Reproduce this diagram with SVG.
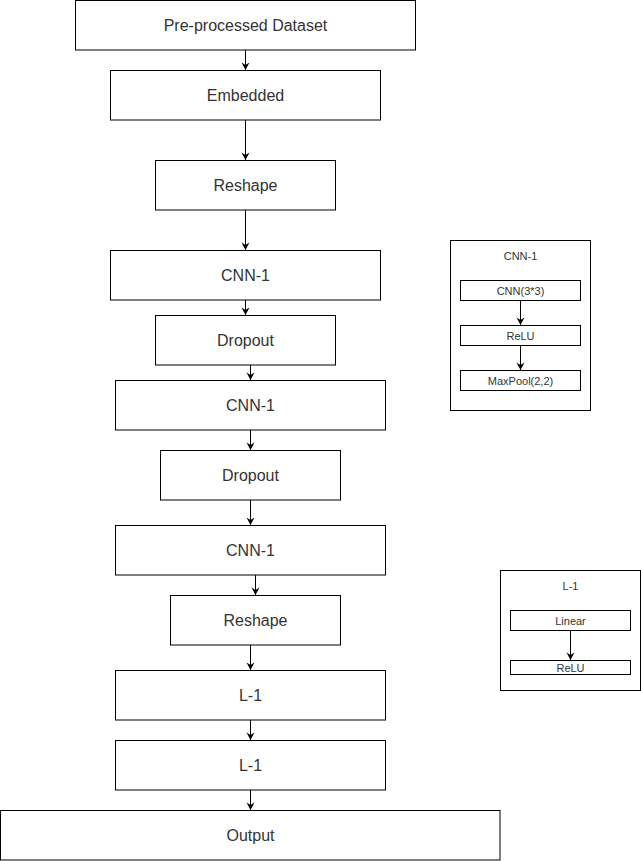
<svg xmlns="http://www.w3.org/2000/svg" width="641" height="861" viewBox="0 0 641 861">
<style>
.box{fill:#fff;stroke:#000;stroke-width:1}
.t{font-family:"Liberation Sans",Arial,sans-serif;font-size:16px;fill:#333;text-anchor:middle;dominant-baseline:central}
.s{font-family:"Liberation Sans",Arial,sans-serif;font-size:11px;fill:#333;text-anchor:middle;dominant-baseline:central}
.c{stroke:#000;stroke-width:1;fill:none}
</style>
<defs>
<marker id="a" markerWidth="9" markerHeight="9" refX="8" refY="4.5" orient="auto" markerUnits="userSpaceOnUse">
<path d="M0.5,0.5 L8,4.5 L0.5,8.5 L3,4.5 Z" fill="#000"/>
</marker>
</defs>
<rect width="641" height="861" fill="#fff"/>
<g id="n-dataset"><rect class="box" x="75.5" y="0.5" width="340" height="49.5"/><text class="t" x="245.5" y="25">Pre-processed Dataset</text></g>
<g id="n-embedded"><rect class="box" x="110.5" y="70.5" width="270" height="49.5"/><text class="t" x="245.5" y="95">Embedded</text></g>
<g id="n-reshape1"><rect class="box" x="155.5" y="160.5" width="180" height="49.5"/><text class="t" x="245.5" y="185">Reshape</text></g>
<g id="n-cnn1a"><rect class="box" x="110.5" y="250.5" width="270" height="49.5"/><text class="t" x="245.5" y="275">CNN-1</text></g>
<g id="n-dropout1"><rect class="box" x="155.5" y="315.5" width="180" height="49.5"/><text class="t" x="245.5" y="340">Dropout</text></g>
<g id="n-cnn1b"><rect class="box" x="115.5" y="380.5" width="270" height="49.5"/><text class="t" x="250.5" y="405">CNN-1</text></g>
<g id="n-dropout2"><rect class="box" x="160.5" y="450.5" width="180" height="49.5"/><text class="t" x="250.5" y="475">Dropout</text></g>
<g id="n-cnn1c"><rect class="box" x="115.5" y="525.5" width="270" height="49.5"/><text class="t" x="250.5" y="550">CNN-1</text></g>
<g id="n-reshape2"><rect class="box" x="170.5" y="595.5" width="170" height="49.5"/><text class="t" x="255.5" y="620">Reshape</text></g>
<g id="n-l1a"><rect class="box" x="115.5" y="670.5" width="270" height="49.5"/><text class="t" x="250.5" y="695">L-1</text></g>
<g id="n-l1b"><rect class="box" x="115.5" y="740.5" width="270" height="49.5"/><text class="t" x="250.5" y="765">L-1</text></g>
<g id="n-output"><rect class="box" x="0.5" y="810.5" width="499.5" height="49.5"/><text class="t" x="250.5" y="835">Output</text></g>
<g id="n-cnn1-detail">
<rect class="box" x="450.5" y="240.5" width="140" height="170"/>
<text class="s" x="520.5" y="256">CNN-1</text>
</g>
<g id="n-cnn33"><rect class="box" x="460.5" y="280.5" width="120" height="20"/><text class="s" x="520.5" y="290.5">CNN(3*3)</text></g>
<g id="n-relu1"><rect class="box" x="460.5" y="325.5" width="120" height="20"/><text class="s" x="520.5" y="335.5">ReLU</text></g>
<g id="n-maxpool"><rect class="box" x="460.5" y="370.5" width="120" height="20"/><text class="s" x="520.5" y="380.5">MaxPool(2,2)</text></g>
<g id="n-l1-detail">
<rect class="box" x="500.5" y="570.5" width="140" height="120"/>
<text class="s" x="570.5" y="586">L-1</text>
</g>
<g id="n-linear"><rect class="box" x="510.5" y="610.5" width="120" height="20"/><text class="s" x="570.5" y="620.5">Linear</text></g>
<g id="n-relu2"><rect class="box" x="510.5" y="660.5" width="120" height="14"/><text class="s" x="570.5" y="667.5">ReLU</text></g>
<g id="connectors">
<path class="c" d="M245.5,50 V70" marker-end="url(#a)"/>
<path class="c" d="M245.5,120 V160" marker-end="url(#a)"/>
<path class="c" d="M245.5,210 V250" marker-end="url(#a)"/>
<path class="c" d="M245.5,300 V315" marker-end="url(#a)"/>
<path class="c" d="M250.5,365 V380" marker-end="url(#a)"/>
<path class="c" d="M250.5,430 V450" marker-end="url(#a)"/>
<path class="c" d="M250.5,500 V525" marker-end="url(#a)"/>
<path class="c" d="M255.5,575 V595" marker-end="url(#a)"/>
<path class="c" d="M250.5,645 V670" marker-end="url(#a)"/>
<path class="c" d="M250.5,720 V740" marker-end="url(#a)"/>
<path class="c" d="M250.5,790 V810" marker-end="url(#a)"/>
<path class="c" d="M520.5,300.5 V325" marker-end="url(#a)"/>
<path class="c" d="M520.5,345.5 V370" marker-end="url(#a)"/>
<path class="c" d="M570.5,630.5 V660" marker-end="url(#a)"/>
</g>
</svg>
